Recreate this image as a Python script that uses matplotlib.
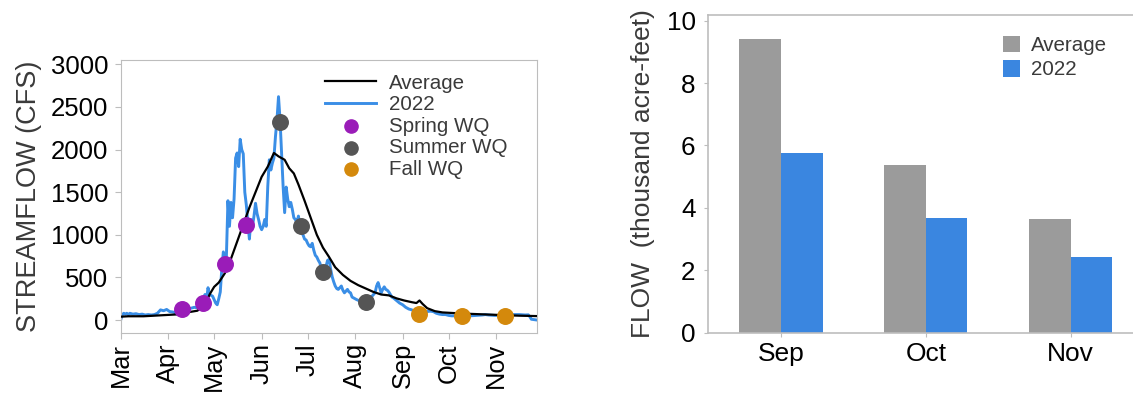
import matplotlib
matplotlib.use('Agg')
import matplotlib.pyplot as plt
import matplotlib.dates as mdates
import numpy as np
import pandas as pd

plt.rcParams['font.family'] = ['Liberation Sans', 'DejaVu Sans']

# ---- left panel: daily streamflow, days counted from Mar 1 2022 ----
start = pd.Timestamp('2022-03-01')

avg_days = [0, 5, 10, 15, 20, 25, 30, 35, 40, 45, 50, 55, 58, 61, 64, 68, 72, 76, 80, 84, 88, 92, 96,
            100, 103, 107, 110, 113, 116, 120, 124, 128, 132, 136, 140, 145, 150, 155, 160, 165, 170,
            175, 180, 185, 190, 193, 195, 197, 200, 205, 210, 215, 220, 230, 240, 250, 260, 272]
avg_flow = [40, 45, 45, 45, 50, 55, 60, 65, 70, 95, 110, 170, 300, 390, 440, 550, 720, 920, 1120, 1320,
            1500, 1680, 1800, 1960, 1920, 1880, 1780, 1720, 1590, 1400, 1200, 1000, 850, 740, 620, 530,
            460, 410, 370, 330, 300, 290, 255, 230, 210, 200, 230, 190, 140, 105, 90, 85, 80, 72, 65, 58,
            52, 47]

y22_days = [0, 1, 2, 3, 4, 5, 6, 8, 10, 12, 14, 16, 18, 20, 22, 24, 26, 28, 30, 32, 34, 36, 38, 40, 42,
            44, 46, 48, 50, 52, 54, 55, 56, 57, 58, 60, 62, 63, 64, 65, 66, 67, 68, 69, 70, 71, 72, 73,
            74, 75, 76, 77, 78, 79, 80, 81, 82, 83, 84, 85, 86, 87, 88, 89, 90, 91, 92, 93, 94, 95, 96,
            97, 98, 99, 100, 101, 102, 103, 104, 105, 106, 107, 108, 109, 110, 111, 112, 113, 114, 115,
            116, 117, 118, 119, 120, 121, 122, 123, 124, 125, 126, 127, 128, 129, 130, 131, 132, 133,
            134, 135, 136, 137, 138, 139, 140, 141, 142, 143, 144, 145, 146, 147, 148, 149, 150, 151,
            152, 154, 156, 158, 160, 162, 164, 166, 167, 168, 169, 170, 171, 172, 173, 174, 175, 176,
            177, 178, 180, 182, 184, 186, 188, 190, 192, 194, 196, 198, 200, 202, 204, 206, 208, 210,
            212, 214, 216, 218, 220, 224, 228, 232, 236, 238, 240, 244, 248, 252, 256, 260, 264, 266,
            267, 268, 272]
y22_flow = [0, 60, 80, 70, 80, 65, 80, 70, 75, 65, 70, 60, 65, 60, 65, 80, 120, 110, 125, 100, 95, 85,
            100, 110, 115, 130, 140, 150, 145, 180, 250, 300, 230, 380, 300, 280, 200, 180, 250, 330, 600,
            800, 700, 750, 1400, 1100, 1380, 1200, 1420, 1900, 1960, 1800, 2120, 2000, 1950, 1500, 1350,
            1140, 950, 1180, 1100, 1220, 1370, 1250, 1180, 1100, 1060, 1100, 1180, 1100, 1570, 1880, 1760,
            1840, 1900, 2150, 2350, 2620, 2350, 1960, 1570, 1260, 1560, 1420, 1330, 1380, 1300, 1200, 1180,
            1140, 1220, 1100, 1020, 1000, 950, 940, 900, 870, 860, 900, 820, 760, 740, 700, 670, 600, 550,
            600, 630, 700, 710, 600, 510, 450, 400, 370, 360, 380, 400, 350, 320, 340, 360, 330, 320, 270,
            260, 240, 225, 215, 240, 260, 280, 320, 400, 440, 380, 320, 360, 390, 360, 350, 330, 300, 270,
            260, 230, 200, 180, 150, 130, 120, 100, 90, 85, 90, 100, 105, 100, 80, 70, 65, 65, 55, 50, 50,
            45, 45, 50, 55, 60, 65, 60, 55, 55, 60, 65, 65, 60, 62, 40, 10, 0]

spring_dates = ['2022-04-10', '2022-04-24', '2022-05-08', '2022-05-22']
spring_flow = [125, 195, 660, 1110]
summer_dates = ['2022-06-13', '2022-06-27', '2022-07-11', '2022-08-08']
summer_flow = [2320, 1100, 565, 215]
fall_dates = ['2022-09-12', '2022-10-10', '2022-11-07']
fall_flow = [76, 53, 45]

# ---- right panel: monthly volume ----
months = ['Sep', 'Oct', 'Nov']
vol_avg = [9.41, 5.37, 3.63]
vol_2022 = [5.75, 3.69, 2.42]

spine_col = '#bdbdbd'
text_col = '#3a3a3a'

fig = plt.figure(figsize=(11.33, 3.94), dpi=100)

ax1 = fig.add_axes([0.1065, 0.154, 0.3679, 0.6937])
avg_x = start + pd.to_timedelta(avg_days, unit='D')
y22_x = start + pd.to_timedelta(y22_days, unit='D')
ax1.plot(avg_x, avg_flow, color='black', lw=1.6, label='Average', zorder=3)
ax1.plot(y22_x, y22_flow, color='#3a8ee6', lw=2.1, label='2022', zorder=2)
ax1.scatter(pd.to_datetime(spring_dates), spring_flow, s=125, color='#9a1cb8', label='Spring WQ', zorder=4)
ax1.scatter(pd.to_datetime(summer_dates), summer_flow, s=125, color='#555555', label='Summer WQ', zorder=4)
ax1.scatter(pd.to_datetime(fall_dates), fall_flow, s=125, color='#d4890c', label='Fall WQ', zorder=4)

ax1.set_xlim(pd.Timestamp('2022-03-01'), pd.Timestamp('2022-11-28'))
ax1.set_ylim(-155, 3050)
ax1.set_yticks([0, 500, 1000, 1500, 2000, 2500, 3000])
ax1.xaxis.set_major_locator(mdates.MonthLocator(bymonth=range(3, 12)))
ax1.xaxis.set_major_formatter(mdates.DateFormatter('%b'))
ax1.tick_params(axis='x', labelsize=18.3, rotation=90, length=4, color=spine_col, pad=3)
ax1.tick_params(axis='y', labelsize=18.5, length=4, color=spine_col, pad=5)
for s in ax1.spines.values():
    s.set_color(spine_col)
ax1.set_ylabel('STREAMFLOW (CFS)', fontsize=19.5, color=text_col, labelpad=6)
leg1 = ax1.legend(loc='upper left', bbox_to_anchor=(0.49, 0.95), frameon=False, fontsize=14.8,
                  borderpad=0, borderaxespad=0, handlelength=2.5, handletextpad=0.6,
                  labelspacing=0.12, markerscale=0.85)
for t in leg1.get_texts():
    t.set_color(text_col)

ax2 = fig.add_axes([0.6249, 0.1556, 0.3751, 0.8063])
x = np.arange(len(months))
w = 0.287
ax2.bar(x - w / 2, vol_avg, width=w, color='#9b9b9b', label='Average')
ax2.bar(x + w / 2, vol_2022, width=w, color='#3a86e0', label='2022')
ax2.set_xlim(-0.504, 2.43)
ax2.set_ylim(0, 10.18)
ax2.set_xticks(x)
ax2.set_xticklabels(months)
ax2.set_yticks([0, 2, 4, 6, 8, 10])
ax2.tick_params(axis='x', labelsize=19, length=3, color=spine_col, pad=4)
ax2.tick_params(axis='y', labelsize=18.7, length=3, color=spine_col, pad=6)
for name, s in ax2.spines.items():
    s.set_color(spine_col)
    s.set_linewidth(1.2)
ax2.spines['right'].set_visible(False)
ax2.set_ylabel('FLOW  (thousand acre-feet)', fontsize=19, color=text_col, labelpad=8)
leg2 = ax2.legend(loc='upper left', bbox_to_anchor=(0.693, 0.935), frameon=False, fontsize=14.8,
                  borderpad=0, borderaxespad=0, handlelength=0.85, handleheight=0.85,
                  handletextpad=0.55, labelspacing=0.25)
for t in leg2.get_texts():
    t.set_color(text_col)

fig.savefig('out.png', dpi=100)
